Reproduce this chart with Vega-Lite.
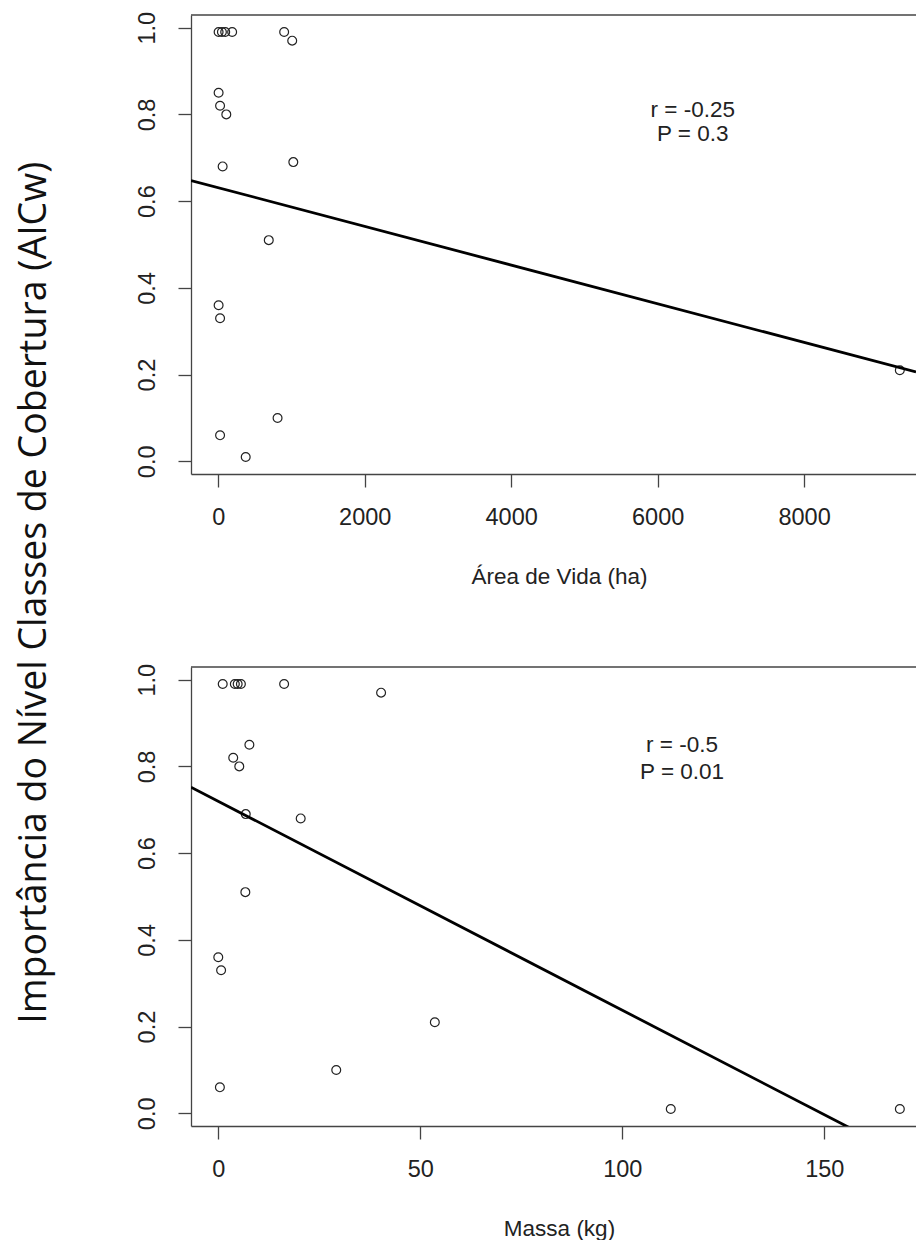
{
  "$schema": "https://vega.github.io/schema/vega-lite/v6.json",
  "background": "white",
  "padding": {"left": 15, "top": 11, "right": 0, "bottom": 0},
  "title": {
    "text": "Importância do Nível Classes de Cobertura (AICw)",
    "orient": "left",
    "anchor": "middle",
    "font": "Open Sans",
    "fontSize": 37.5,
    "fontWeight": "normal",
    "color": "#111",
    "offset": 82,
    "dx": 33
  },
  "datasets": {
    "area": [
      {"area": 5, "aicw": 0.99},
      {"area": 50, "aicw": 0.99},
      {"area": 95, "aicw": 0.99},
      {"area": 190, "aicw": 0.99},
      {"area": 900, "aicw": 0.99},
      {"area": 1010, "aicw": 0.97},
      {"area": 5, "aicw": 0.85},
      {"area": 25, "aicw": 0.82},
      {"area": 110, "aicw": 0.80},
      {"area": 60, "aicw": 0.68},
      {"area": 1025, "aicw": 0.69},
      {"area": 690, "aicw": 0.51},
      {"area": 5, "aicw": 0.36},
      {"area": 25, "aicw": 0.33},
      {"area": 810, "aicw": 0.10},
      {"area": 25, "aicw": 0.06},
      {"area": 375, "aicw": 0.01},
      {"area": 9307, "aicw": 0.21}
    ],
    "area_line": [
      {"area": -372, "aicw": 0.6476},
      {"area": 9528, "aicw": 0.2060}
    ],
    "massa": [
      {"massa": 1.1, "aicw": 0.99},
      {"massa": 4.1, "aicw": 0.99},
      {"massa": 4.8, "aicw": 0.99},
      {"massa": 5.6, "aicw": 0.99},
      {"massa": 16.3, "aicw": 0.99},
      {"massa": 40.3, "aicw": 0.97},
      {"massa": 7.7, "aicw": 0.85},
      {"massa": 3.7, "aicw": 0.82},
      {"massa": 5.2, "aicw": 0.80},
      {"massa": 6.8, "aicw": 0.69},
      {"massa": 20.4, "aicw": 0.68},
      {"massa": 6.7, "aicw": 0.51},
      {"massa": 0.0, "aicw": 0.36},
      {"massa": 0.7, "aicw": 0.33},
      {"massa": 53.6, "aicw": 0.21},
      {"massa": 29.2, "aicw": 0.10},
      {"massa": 0.4, "aicw": 0.06},
      {"massa": 112, "aicw": 0.01},
      {"massa": 168.7, "aicw": 0.01}
    ],
    "massa_line": [
      {"massa": -6.75, "aicw": 0.752},
      {"massa": 172.7, "aicw": -0.1124}
    ]
  },
  "vconcat": [
    {
      "width": 725,
      "height": 459,
      "layer": [
        {
          "data": {"name": "area"},
          "mark": {"type": "point", "shape": "circle", "filled": false, "size": 78, "stroke": "#222", "strokeWidth": 1.2, "opacity": 1, "clip": true},
          "encoding": {
            "x": {"field": "area", "type": "quantitative", "scale": {"domain": [-372, 9528], "nice": false, "zero": false},
                  "axis": {"title": "Área de Vida (ha)", "values": [0, 2000, 4000, 6000, 8000], "format": "d", "titleX": 368}},
            "y": {"field": "aicw", "type": "quantitative", "scale": {"domain": [-0.0292, 1.0292], "nice": false, "zero": false},
                  "axis": {"title": null, "values": [0, 0.2, 0.4, 0.6, 0.8, 1], "format": ".1f"}}
          }
        },
        {
          "data": {"name": "area_line"},
          "mark": {"type": "line", "color": "black", "strokeWidth": 2.8, "clip": true},
          "encoding": {
            "x": {"field": "area", "type": "quantitative"},
            "y": {"field": "aicw", "type": "quantitative"}
          }
        },
        {
          "data": {"values": [{}]},
          "mark": {"type": "rule", "color": "#444", "strokeWidth": 1.3},
          "encoding": {"y": {"datum": 1.0292}}
        },
        {
          "data": {"values": [{}]},
          "mark": {"type": "text", "font": "Liberation Sans", "fontSize": 22.5, "color": "#222", "align": "center", "baseline": "middle", "lineHeight": 24},
          "encoding": {"x": {"datum": 6480}, "y": {"datum": 0.810}, "text": {"value": ["r = -0.25", "P = 0.3"]}}
        }
      ]
    },
    {
      "width": 725,
      "height": 459,
      "layer": [
        {
          "data": {"name": "massa"},
          "mark": {"type": "point", "shape": "circle", "filled": false, "size": 78, "stroke": "#222", "strokeWidth": 1.2, "opacity": 1, "clip": true},
          "encoding": {
            "x": {"field": "massa", "type": "quantitative", "scale": {"domain": [-6.75, 172.7], "nice": false, "zero": false},
                  "axis": {"title": "Massa (kg)", "values": [0, 50, 100, 150], "format": "d", "titleX": 368}},
            "y": {"field": "aicw", "type": "quantitative", "scale": {"domain": [-0.0292, 1.0292], "nice": false, "zero": false},
                  "axis": {"title": null, "values": [0, 0.2, 0.4, 0.6, 0.8, 1], "format": ".1f"}}
          }
        },
        {
          "data": {"name": "massa_line"},
          "mark": {"type": "line", "color": "black", "strokeWidth": 2.8, "clip": true},
          "encoding": {
            "x": {"field": "massa", "type": "quantitative"},
            "y": {"field": "aicw", "type": "quantitative"}
          }
        },
        {
          "data": {"values": [{}]},
          "mark": {"type": "rule", "color": "#444", "strokeWidth": 1.3},
          "encoding": {"y": {"datum": 1.0292}}
        },
        {
          "data": {"values": [{}]},
          "mark": {"type": "text", "font": "Liberation Sans", "fontSize": 22.5, "color": "#222", "align": "center", "baseline": "middle", "lineHeight": 27},
          "encoding": {"x": {"datum": 114.8}, "y": {"datum": 0.8495}, "text": {"value": ["r = -0.5", "P = 0.01"]}}
        }
      ]
    }
  ],
  "spacing": 193,
  "bounds": "flush",
  "config": {
    "view": {"stroke": null},
    "axis": {
      "grid": false,
      "domainColor": "#444",
      "domainWidth": 1.3,
      "tickColor": "#444",
      "tickWidth": 1.3,
      "tickSize": 13,
      "labelFont": "Liberation Sans",
      "labelFontSize": 23.5,
      "labelColor": "#222",
      "labelFlush": false,
      "labelOverlap": false,
      "titleFont": "Liberation Sans",
      "titleFontSize": 22.5,
      "titleFontWeight": "normal",
      "titleColor": "#222"
    },
    "axisX": {"labelPadding": 18, "titlePadding": 37},
    "axisY": {"labelAngle": -90, "labelAlign": "center", "labelBaseline": "bottom", "labelPadding": 19}
  }
}
